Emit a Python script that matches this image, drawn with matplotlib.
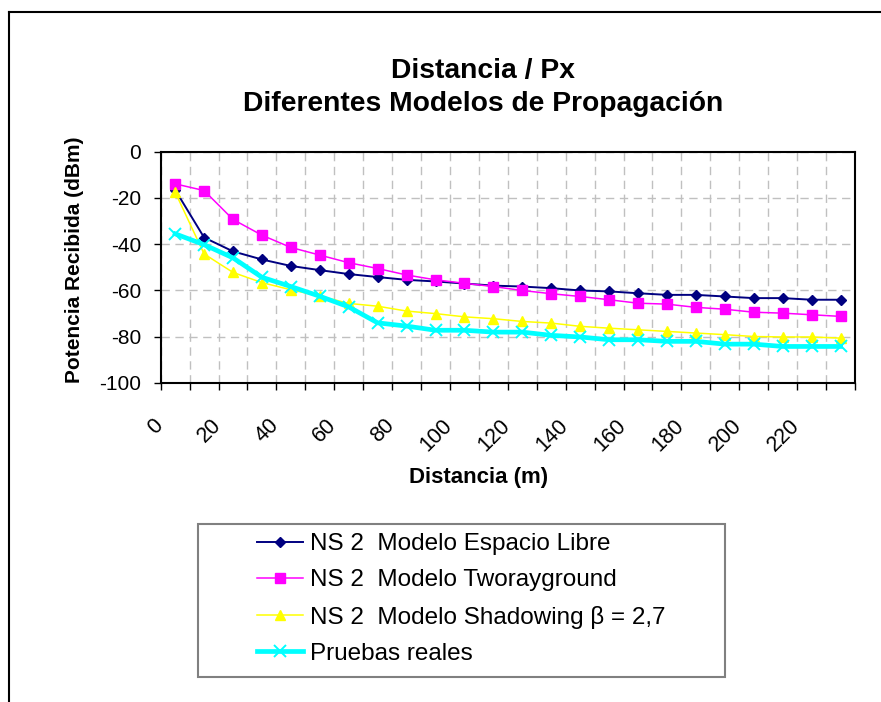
import matplotlib
matplotlib.use("Agg")
import matplotlib.pyplot as plt
from matplotlib.lines import Line2D
from matplotlib.patches import Rectangle
from matplotlib.transforms import ScaledTranslation

plt.rcParams['font.family'] = ['Liberation Sans', 'DejaVu Sans']

# ---- data ----
distances = [0, 10, 20, 30, 40, 50, 60, 70, 80, 90, 100, 110, 120, 130, 140, 150,
             160, 170, 180, 190, 200, 210, 220, 230]
espacio_libre = [-16.5, -37.1, -43.1, -46.6, -49.4, -51.2, -52.9, -54.2, -55.4, -56.1, -57.0, -57.9,
                 -58.3, -59.0, -60.0, -60.4, -61.2, -61.9, -61.9, -62.6, -63.3, -63.3, -64.0, -64.0]
tworayground = [-13.9, -16.8, -29.3, -36.1, -41.4, -44.7, -48.0, -50.5, -53.3, -55.4, -56.9, -58.3,
                -60.0, -61.4, -62.6, -64.0, -65.5, -65.9, -67.3, -68.1, -69.4, -69.8, -70.5, -71.2]
shadowing = [-17.5, -44.2, -52.2, -56.6, -59.7, -62.4, -65.6, -66.8, -68.9, -70.0, -71.4, -72.2,
             -73.4, -74.1, -75.5, -76.3, -77.0, -77.7, -78.4, -79.1, -79.9, -80.1, -80.1, -80.6]
pruebas_reales = [-35.5, -40.2, -45.9, -54.3, -58.3, -62.5, -67.1, -74.0, -75.4, -77.2, -77.2, -78.0,
                  -78.0, -79.4, -80.1, -81.3, -81.3, -82.0, -82.0, -83.2, -83.2, -84.2, -84.2, -84.2]
tick_labels = [str(d) for d in distances[::2]]
y_ticks = [0, -20, -40, -60, -80, -100]

series_names = ["NS 2  Modelo Espacio Libre", "NS 2  Modelo Tworayground",
                "NS 2  Modelo Shadowing \u03b2 = 2,7", "Pruebas reales"]

W, H = 881, 702
fig = plt.figure(figsize=(W / 100, H / 100), dpi=100)
fig.patch.set_facecolor('white')

L, R, T, B = 160.7, 855, 151.7, 383
ax = fig.add_axes([L / W, 1 - B / H, (R - L) / W, (B - T) / H])

x = list(range(len(distances)))

ax.plot(x, espacio_libre, color='#000080', lw=1.4, marker='D', ms=5.4, mec='#000080', mfc='#000080',
        label=series_names[0], zorder=3)
ax.plot(x, tworayground, color='#FF00FF', lw=1.1, marker='s', ms=7.4, mec='#FF00FF', mfc='#FF00FF',
        label=series_names[1], zorder=3)
ax.plot(x, shadowing, color='#FFFF00', lw=1.1, marker='^', ms=7.8, mec='#FFFF00', mfc='#FFFF00',
        label=series_names[2], zorder=3)
ax.plot(x, pruebas_reales, color='#00FFFF', lw=3.4, marker='x', ms=9, mew=1.4, mec='#00FFFF',
        label=series_names[3], zorder=4)

ax.set_xlim(-0.5, len(distances) - 0.5)
ax.set_ylim(-100, 0)

# category boundaries as minor ticks (marks + vertical grid)
ax.set_xticks([i - 0.5 for i in range(len(distances) + 1)], minor=True)
ax.set_xticks(x[::2])
ax.set_xticklabels(tick_labels)
ax.tick_params(axis='x', which='minor', length=5, width=1, direction='out', color='black')
ax.tick_params(axis='x', which='major', length=0, pad=23, labelsize=15.5)
for lab in ax.get_xticklabels():
    lab.set_rotation(45)
    lab.set_ha('right')
    lab.set_va('top')
    lab.set_rotation_mode('default')

off = ScaledTranslation(-8 / 100, 0, fig.dpi_scale_trans)
for lab in ax.get_xticklabels():
    lab.set_transform(lab.get_transform() + off)

ax.set_yticks(y_ticks)
ax.set_yticklabels([str(v) for v in y_ticks])
ax.tick_params(axis='y', length=5, width=1, direction='out', pad=9, labelsize=15)

ax.grid(True, axis='x', which='minor', color='#c0c0c0', lw=1, ls=(0, (6, 4)))
ax.grid(True, axis='y', which='major', color='#c0c0c0', lw=1, ls=(0, (6, 4)))
ax.grid(False, axis='x', which='major')
ax.set_axisbelow(True)
for s in ax.spines.values():
    s.set_color('black')
    s.set_linewidth(1.5)

# titles and axis labels
fig.text(483 / W, 1 - 78 / H, "Distancia / Px", ha='center', va='baseline', fontsize=20.3, fontweight='bold')
fig.text(483 / W, 1 - 111 / H, "Diferentes Modelos de Propagaci\u00f3n", ha='center', va='baseline',
         fontsize=20.3, fontweight='bold')
fig.text(479 / W, 1 - 478 / H, "Distancia (m)", ha='center', va='center', fontsize=16, fontweight='bold')
fig.text(75 / W, 1 - 260 / H, "Potencia Recibida (dBm)", ha='center', va='center', rotation=90,
         fontsize=15, fontweight='bold')

# legend box
lx0, lx1, ly0, ly1 = 198, 725, 524, 677
fig.patches.append(Rectangle((lx0 / W, 1 - ly1 / H), (lx1 - lx0) / W, (ly1 - ly0) / H,
                             transform=fig.transFigure, fill=False, edgecolor='#808080', lw=1.5))
handles, labels = ax.get_legend_handles_labels()
fig.legend(handles, labels, loc='center', bbox_to_anchor=((lx0 + lx1) / 2 / W, 1 - 599 / H),
           frameon=False, fontsize=17.5, handlelength=1.9, handletextpad=0.28, labelspacing=0.58,
           borderpad=0, numpoints=1)

# outer chart border (top and left visible)
fig.add_artist(Line2D([9 / W, 1.0], [1 - 12 / H, 1 - 12 / H], transform=fig.transFigure, color='black', lw=1.5))
fig.add_artist(Line2D([9 / W, 9 / W], [1 - 12 / H, 0.0], transform=fig.transFigure, color='black', lw=1.5))

fig.savefig("out.png", dpi=100, facecolor='white')
